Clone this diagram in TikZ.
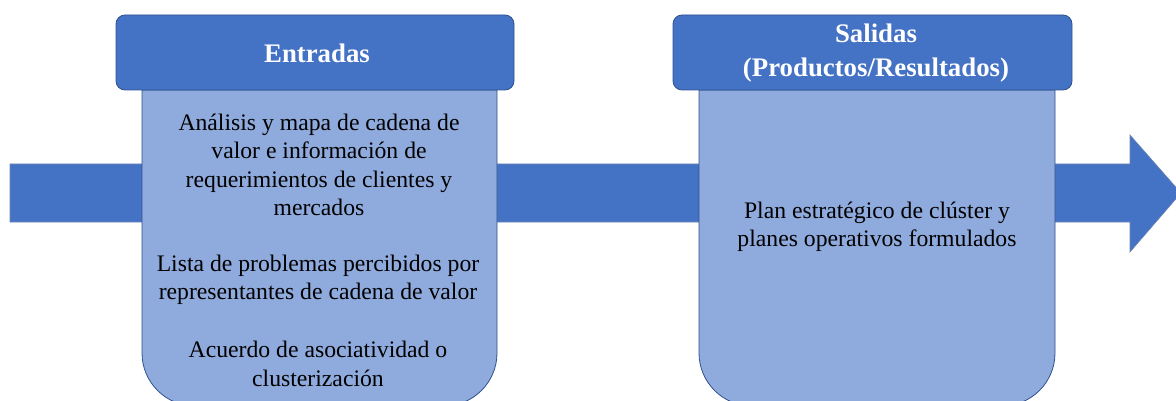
\documentclass[tikz,border=0pt]{standalone}
\usepackage{fontspec}
\setmainfont{Liberation Serif}
\definecolor{hdr}{HTML}{4472C4}
\definecolor{bodyc}{HTML}{8FAADC}
\definecolor{edge}{HTML}{2F528F}
\begin{document}
\begin{tikzpicture}[x=1pt,y=-1pt,
  headbox/.style={fill=hdr,draw=edge,line width=0.8pt,rounded corners=9pt},
  bodybox/.style={fill=bodyc,draw=edge,line width=0.8pt},
  bodytext/.style={align=center,font=\fontsize{23.7}{28.5}\selectfont,text=black,inner sep=0pt},
  headtext/.style={align=center,font=\fontsize{26.8}{34}\selectfont\bfseries,text=white,inner sep=0pt}]
\useasboundingbox (0,0) rectangle (1176,401);
\clip (0,0) rectangle (1176,401);
% big arrow
\fill[hdr,draw=edge!70,line width=0.6pt] (10,164) -- (1130,164) -- (1130,135) -- (1181,193) -- (1130,252) -- (1130,222) -- (10,222) -- cycle;
% Entradas body
\path[bodybox] (142,90) [rounded corners=53pt] -- (142,406) -- (497,406) [sharp corners] -- (497,90) -- cycle;
\draw[headbox] (116,15) rectangle (514,90);
\node[headtext] (ent) at (317,53) {Entradas};
\node[bodytext] (e1) at (319,165) {Análisis y mapa de cadena de\\valor e información de\\requerimientos de clientes y\\mercados};
\node[bodytext] (e2) at (318,280) {Lista de problemas percibidos por\\representantes de cadena de valor};
\node[bodytext] (e3) at (318,364) {Acuerdo de asociatividad o\\clusterización};
% Salidas body
\path[bodybox] (699,90) [rounded corners=53pt] -- (699,406) -- (1055,406) [sharp corners] -- (1055,90) -- cycle;
\draw[headbox] (673,15) rectangle (1072,90);
\node[headtext] (sal) at (876,53) {Salidas\\(Productos/Resultados)};
\node[bodytext] (s1) at (877,227) {Plan estratégico de clúster y\\planes operativos formulados};
\end{tikzpicture}
\end{document}
